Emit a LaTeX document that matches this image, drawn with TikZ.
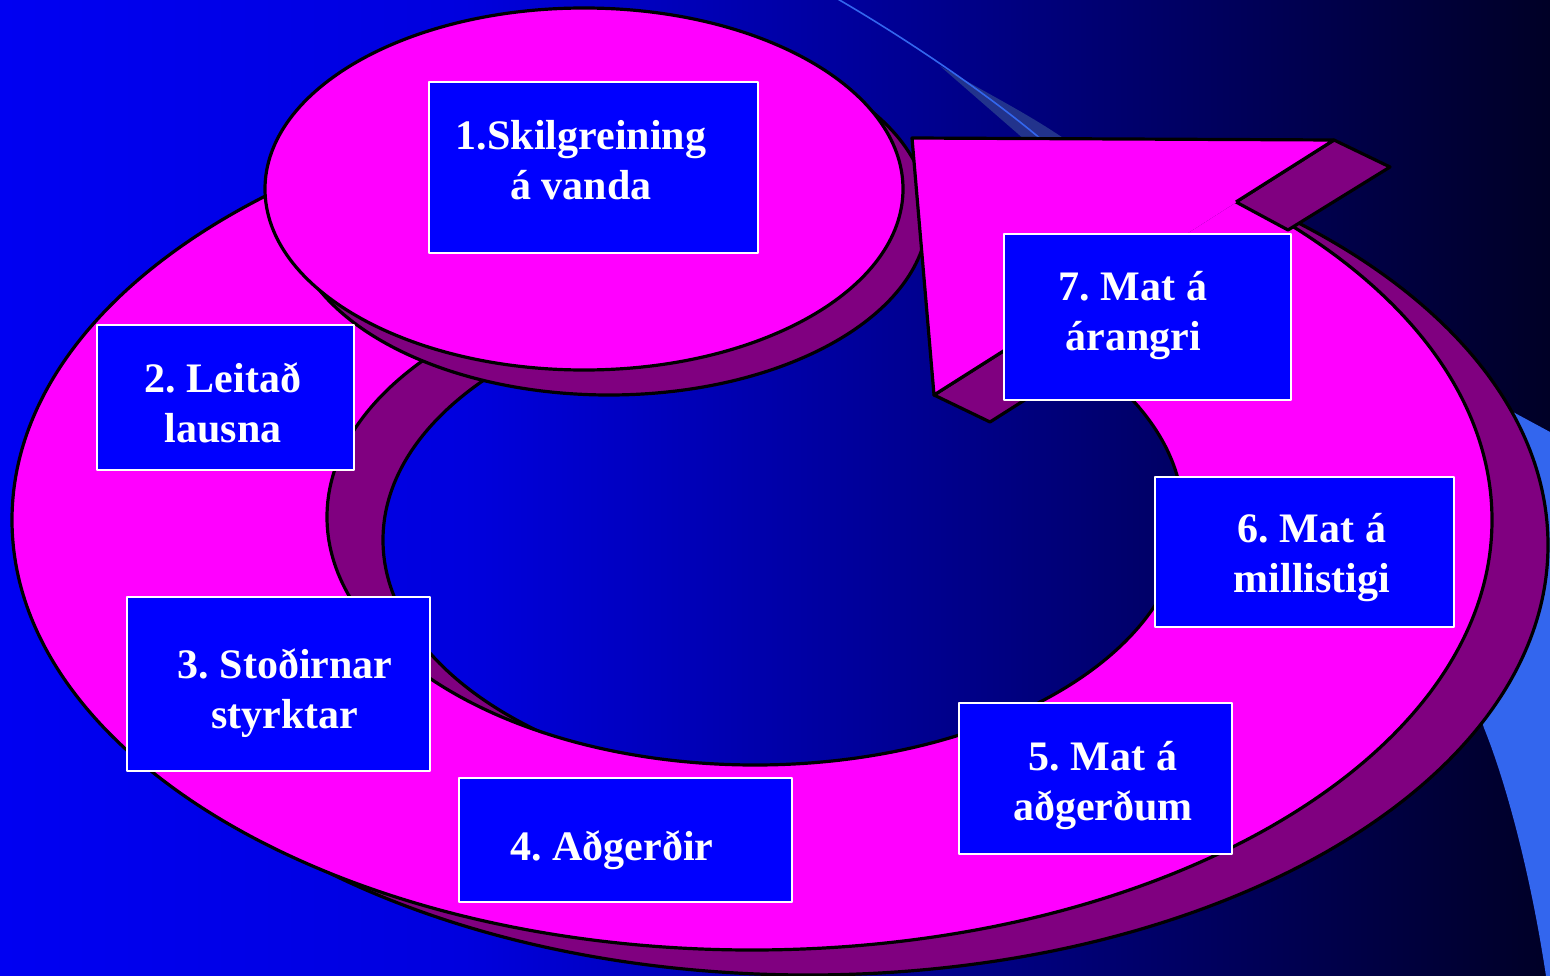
\documentclass[tikz,border=0pt]{standalone}
\usepackage{fontspec}
\setmainfont{Liberation Serif}
\usetikzlibrary{positioning}

\definecolor{ringpink}{RGB}{255,0,255}
\definecolor{ringside}{RGB}{128,0,128}
\definecolor{stepblue}{RGB}{0,0,255}
\definecolor{swoosh}{RGB}{51,102,238}
\definecolor{swooshdark}{RGB}{34,51,140}
\definecolor{bgA}{RGB}{0,0,242}
\definecolor{bgB}{RGB}{0,0,222}
\definecolor{bgC}{RGB}{0,0,105}
\definecolor{bgD}{RGB}{0,0,38}
\pgfdeclarehorizontalshading{bgfade}{100bp}{color(0bp)=(bgA); color(25bp)=(bgA); color(40bp)=(bgB); color(62bp)=(bgC); color(75bp)=(bgD); color(100bp)=(bgD)}

\begin{document}
\begin{tikzpicture}[x=1pt,y=-1pt,line join=round,
  edge/.style={draw=black,line width=3.2pt},
  stepbox/.style={draw=white,line width=2.6pt,fill=stepblue,inner sep=0pt},
  steptext/.style={text=white,font=\bfseries\frenchspacing\fontsize{42}{50}\selectfont,align=center,inner sep=0pt,anchor=base}]
 \useasboundingbox (0,0) rectangle (1550,976);
 \shade[shading=bgfade] (0,0) rectangle (1550,976); %background

 % swoosh behind the ring
 \fill[swoosh] (1500,405)--(1550,432)--(1550,976)--(1546,976)
   .. controls (1530,870) and (1505,780) .. (1484,728)--(1430,560)--cycle;
 \fill[swooshdark] (940,66) .. controls (990,95) and (1030,115) .. (1066,140)--(1025,140)--cycle;
 \draw[swoosh,line width=1.6pt] (836,-2) .. controls (905,38) and (985,92) .. (1042,140);

 % ring, cut open at the arrow
 \begin{scope}
  \clip (-10,-10)--(757,-10)--(755,509)--(1700,-93)--(1700,1000)--(-10,1000)--cycle;
  \fill[ringside,even odd rule] (808,545) ellipse [x radius=740,y radius=430]
    (811,540) ellipse [x radius=428,y radius=248];
  \draw[edge] (808,545) ellipse [x radius=740,y radius=430];
  \fill[ringpink,even odd rule] (752,520) ellipse [x radius=740,y radius=430]
    (755,517) ellipse [x radius=428,y radius=248];
  \draw[edge] (752,520) ellipse [x radius=740,y radius=430];
  \begin{scope}
   \clip (755,517) ellipse [x radius=428,y radius=248];
   \fill[ringside,even odd rule] (755,517) ellipse [x radius=428,y radius=248]
     (811,540) ellipse [x radius=428,y radius=248];
   \draw[edge] (811,540) ellipse [x radius=428,y radius=248];
  \end{scope}
  \draw[edge] (755,517) ellipse [x radius=428,y radius=248];
 \end{scope}

 % top disc
 \filldraw[edge,fill=ringside] (609,214) ellipse [x radius=319,y radius=181];
 \filldraw[edge,fill=ringpink] (584,189) ellipse [x radius=319,y radius=181];

 % arrow head
 \filldraw[edge,fill=ringside] (1236,202)--(1334,140)--(1390,167)--(1288,230)--cycle;
 \filldraw[edge,fill=ringside] (934,395)--(1035,331)--(1091,358)--(990,422)--cycle;
 \fill[ringpink] (912,138)--(1334,140)--(934,395)--cycle;
 \draw[edge] (1236,202)--(1334,140)--(912,138)--(934,395)--(1035,331);

 % steps
 \node[stepbox,minimum width=329,minimum height=171] (b1) at (593.5,167.5) {};
 \node[stepbox,minimum width=257,minimum height=145] (b2) at (225.5,397.5) {};
 \node[stepbox,minimum width=303,minimum height=174] (b3) at (278.5,684) {};
 \node[stepbox,minimum width=333,minimum height=124] (b4) at (625.5,840) {};
 \node[stepbox,minimum width=273,minimum height=151] (b5) at (1095.5,778.5) {};
 \node[stepbox,minimum width=299,minimum height=150] (b6) at (1304.5,552) {};
 \node[stepbox,minimum width=287,minimum height=166] (b7) at (1147.5,317) {};

 \node[steptext] (t1) at (581,200) {1.Skilgreining\\á vanda};
 \node[steptext] (t2) at (223,442) {2. Leitað\\lausna};
 \node[steptext] (t3) at (285,728) {3. Stoðirnar\\styrktar};
 \node[steptext] (t4) at (612,860) {4. Aðgerðir};
 \node[steptext] (t5) at (1103,820) {5. Mat á\\aðgerðum};
 \node[steptext] (t6) at (1312,592) {6. Mat á\\millistigi};
 \node[steptext] (t7) at (1133,350) {7. Mat á\\árangri};
\end{tikzpicture}
\end{document}
